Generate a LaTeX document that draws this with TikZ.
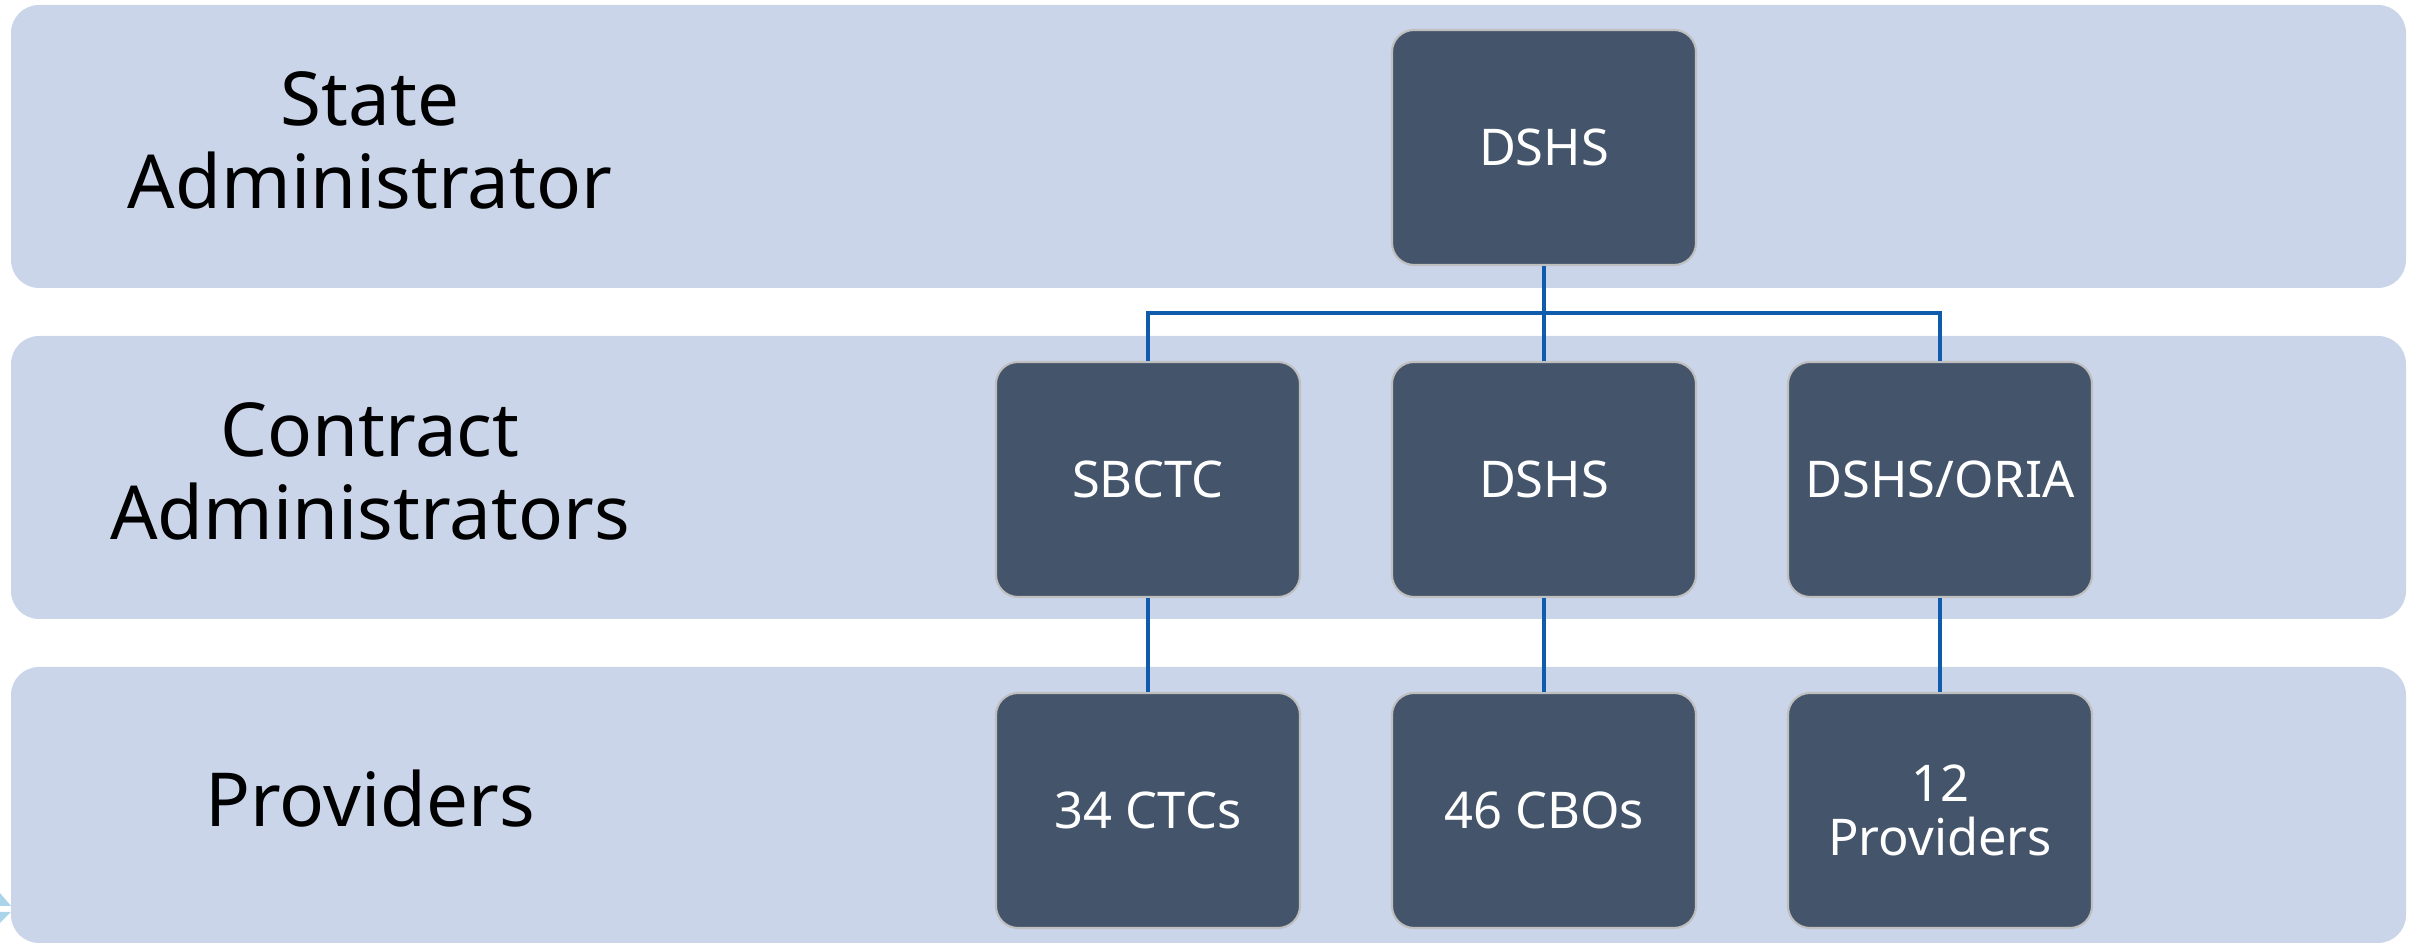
\documentclass[tikz,border=0pt]{standalone}
\usepackage{fontspec}
\setmainfont{Noto Sans}
\usepackage{tikz}
\usetikzlibrary{calc,positioning}

\definecolor{bandblue}{RGB}{202,213,234}
\definecolor{boxslate}{RGB}{68,84,106}
\definecolor{boxedge}{RGB}{191,191,191}
\definecolor{linkblue}{RGB}{16,92,172}
\definecolor{tipblue}{RGB}{170,212,234}

\begin{document}
\begin{tikzpicture}[scale=1.0,
    band/.style={fill=bandblue, draw=none, rounded corners=0.28cm},
    orgbox/.style={fill=boxslate, draw=boxedge, line width=0.6pt, rounded corners=0.22cm,
      minimum width=3.04cm, minimum height=2.35cm, text=white, align=center,
      font=\fontsize{14.4}{15.2}\selectfont, inner sep=0pt},
    tierlbl/.style={text=black, align=center, font=\fontsize{21.2}{23.6}\selectfont, inner sep=0pt},
    link/.style={draw=linkblue, line width=0.95pt}]
    \useasboundingbox (0, 0) rectangle (24.18, 9.45);

    % tier bands
    \fill[band] (0.11, 6.57) rectangle (24.06, 9.40);
    \fill[band] (0.11, 3.26) rectangle (24.06, 6.09);
    \fill[band] (0.11, 0.02) rectangle (24.06, 2.78);

    % cut-off arrow at the lower left
    \fill[tipblue] (0, 0.52) -- (0.11, 0.39) -- (0, 0.39) -- cycle;
    \fill[tipblue] (0, 0.33) -- (0.11, 0.33) -- (0, 0.22) -- cycle;

    \node[tierlbl] (stateLbl) at (3.70, 8.05) {State\\Administrator};
    \node[tierlbl] (contractLbl) at (3.70, 4.74) {Contract\\Administrators};
    \node[tierlbl] (provLbl) at (3.70, 1.46) {Providers};

    \node[orgbox] (dshsTop) at (15.44, 7.975) {DSHS};

    \node[orgbox] (sbctc) at (11.48, 4.655) {SBCTC};
    \node[orgbox] (dshsMid) at (15.44, 4.655) {DSHS};
    \node[orgbox] (oria) at (19.40, 4.655) {DSHS/ORIA};

    \node[orgbox] (ctcs) at (11.48, 1.345) {34 CTCs};
    \node[orgbox] (cbos) at (15.44, 1.345) {46 CBOs};
    \node[orgbox] (provs) at (19.40, 1.345) {12\\Providers};

    \coordinate (bus) at (15.44, 6.32);
    \draw[link] (dshsTop.south) -- (dshsMid.north);
    \draw[link] (sbctc.north) |- (bus) -| (oria.north);

    \draw[link] (sbctc.south) -- (ctcs.north);
    \draw[link] (dshsMid.south) -- (cbos.north);
    \draw[link] (oria.south) -- (provs.north);
  \end{tikzpicture}
\end{document}
